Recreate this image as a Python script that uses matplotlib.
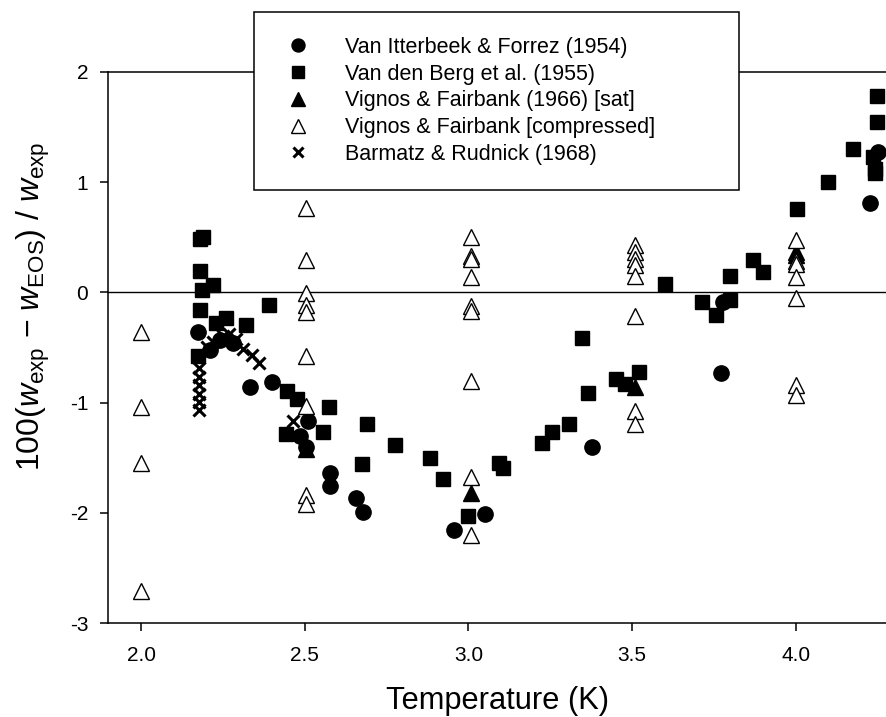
import numpy as np
import matplotlib
matplotlib.use('Agg')
import matplotlib.pyplot as plt

plt.rcParams['font.family'] = ['Liberation Sans', 'DejaVu Sans']
plt.rcParams['mathtext.fontset'] = 'custom'
plt.rcParams['mathtext.rm'] = 'Liberation Sans'
plt.rcParams['mathtext.it'] = 'Liberation Sans:italic'
plt.rcParams['axes.unicode_minus'] = False

#%% data

# Van Itterbeek & Forrez (1954)
itt_T = [2.175, 2.21, 2.24, 2.28, 2.333, 2.40, 2.51, 2.485, 2.504, 2.577, 2.577,
         2.658, 2.679, 2.955, 3.05, 3.376, 3.77, 3.778, 4.226, 4.25]
itt_y = [-0.36, -0.52, -0.43, -0.46, -0.86, -0.81, -1.17, -1.30, -1.405, -1.635, -1.76,
         -1.86, -1.99, -2.15, -2.01, -1.40, -0.734, -0.085, 0.81, 1.275]

# Van den Berg et al. (1955)
berg_T = [2.18, 2.19, 2.18, 2.22, 2.185, 2.18, 2.26, 2.23, 2.32, 2.39, 2.175,
          2.447, 2.475, 2.443, 2.557, 2.575, 2.69, 2.776, 2.674, 2.882, 2.923,
          3.0, 3.094, 3.104, 3.226, 3.254, 3.308, 3.346, 3.364, 3.45, 3.478,
          3.52, 3.60, 3.712, 3.755, 3.80, 3.80, 3.87, 3.90, 4.004, 4.097,
          4.175, 4.236, 4.24, 4.24, 4.246, 4.248]
berg_y = [0.48, 0.50, 0.19, 0.07, 0.02, -0.16, -0.23, -0.28, -0.30, -0.115, -0.58,
          -0.89, -0.97, -1.285, -1.27, -1.04, -1.19, -1.385, -1.556, -1.505, -1.69,
          -2.025, -1.545, -1.59, -1.364, -1.264, -1.194, -0.41, -0.916, -0.79, -0.83,
          -0.72, 0.08, -0.085, -0.205, -0.07, 0.15, 0.29, 0.18, 0.755, 1.00,
          1.30, 1.23, 1.12, 1.08, 1.78, 1.54]

# Vignos & Fairbank (1966) [sat]
sat_T = [2.504, 3.007, 3.508, 4.0, 4.0]
sat_y = [-1.42, -1.82, -0.86, 0.37, 0.34]

# Vignos & Fairbank [compressed]
comp_T = [2.0, 2.0, 2.0, 2.0,
          2.505, 2.505, 2.505, 2.505, 2.505, 2.505, 2.505, 2.505, 2.505,
          3.007, 3.007, 3.007, 3.007, 3.007, 3.007, 3.007, 3.007, 3.007,
          3.508, 3.508, 3.508, 3.508, 3.508, 3.508, 3.508, 3.508,
          4.0, 4.0, 4.0, 4.0, 4.0, 4.0, 4.0]
comp_y = [-0.36, -1.04, -1.55, -2.71,
          0.76, 0.29, -0.01, -0.115, -0.175, -0.58, -1.03, -1.84, -1.92,
          0.50, 0.33, 0.30, 0.14, -0.12, -0.17, -0.80, -1.67, -2.20,
          0.43, 0.37, 0.30, 0.25, 0.15, -0.215, -1.08, -1.19,
          0.47, 0.28, 0.26, 0.136, -0.055, -0.84, -0.93]

# Barmatz & Rudnick (1968)
barm_T = [2.178, 2.178, 2.178, 2.178, 2.178, 2.178, 2.20, 2.22, 2.25, 2.27,
          2.29, 2.31, 2.34, 2.36, 2.465]
barm_y = [-0.69, -0.77, -0.84, -0.92, -0.99, -1.07, -0.50, -0.45, -0.40, -0.38,
          -0.42, -0.51, -0.57, -0.64, -1.17]

#%%

fig = plt.figure(figsize=(8.86, 7.17), dpi=100)
ax = fig.add_axes([0.1222, 0.1307, 0.8778, 0.7693])

ax.plot(itt_T, itt_y, linestyle='none', marker='o', markersize=11, color='black',
        label='Van Itterbeek & Forrez (1954)')
ax.plot(berg_T, berg_y, linestyle='none', marker='s', markersize=9.5, color='black',
        label='Van den Berg et al. (1955)')
ax.plot(sat_T, sat_y, linestyle='none', marker='^', markersize=11.5, color='black',
        label='Vignos & Fairbank (1966) [sat]')
ax.plot(comp_T, comp_y, linestyle='none', marker='^', markersize=11.5, markerfacecolor='white',
        markeredgecolor='black', markeredgewidth=1.0, label='Vignos & Fairbank [compressed]')
ax.plot(barm_T, barm_y, linestyle='none', marker='x', markersize=8, markeredgewidth=2.2,
        color='black', label='Barmatz & Rudnick (1968)')

ax.axhline(0, color='black', linewidth=1.0, zorder=1)

ax.set_xlim(1.9, 4.275)
ax.set_ylim(-3, 2)
ax.set_xticks([2.0, 2.5, 3.0, 3.5, 4.0])
ax.set_xticklabels(['2.0', '2.5', '3.0', '3.5', '4.0'])
ax.set_yticks([-3, -2, -1, 0, 1, 2])

ax.spines['right'].set_visible(False)
for s in ['left', 'bottom', 'top']:
    ax.spines[s].set_linewidth(1.1)
ax.tick_params(direction='out', length=5.5, width=1.1, labelsize=15)
ax.tick_params(axis='x', pad=11)
ax.tick_params(axis='y', pad=9)

ax.set_xlabel('Temperature (K)', fontsize=22.2, labelpad=15)
ax.set_ylabel(r'100($w_{\rm exp}$ − $w_{\rm EOS}$) / $w_{\rm exp}$', fontsize=23)
ax.yaxis.set_label_coords(-0.072, 0.575)

leg = ax.legend(loc='upper left',
                bbox_to_anchor=(254 / 886, 1 - 190 / 717, (739 - 254) / 886, 178 / 717),
                bbox_transform=fig.transFigure, mode='expand', borderaxespad=0,
                fontsize=15.5, frameon=True, fancybox=False, edgecolor='black',
                framealpha=1, borderpad=1.15, labelspacing=0.27, handlelength=1.8,
                handletextpad=1.3, markerscale=0.85)
leg.get_frame().set_linewidth(1.1)

plt.savefig('out.png', dpi=100)
